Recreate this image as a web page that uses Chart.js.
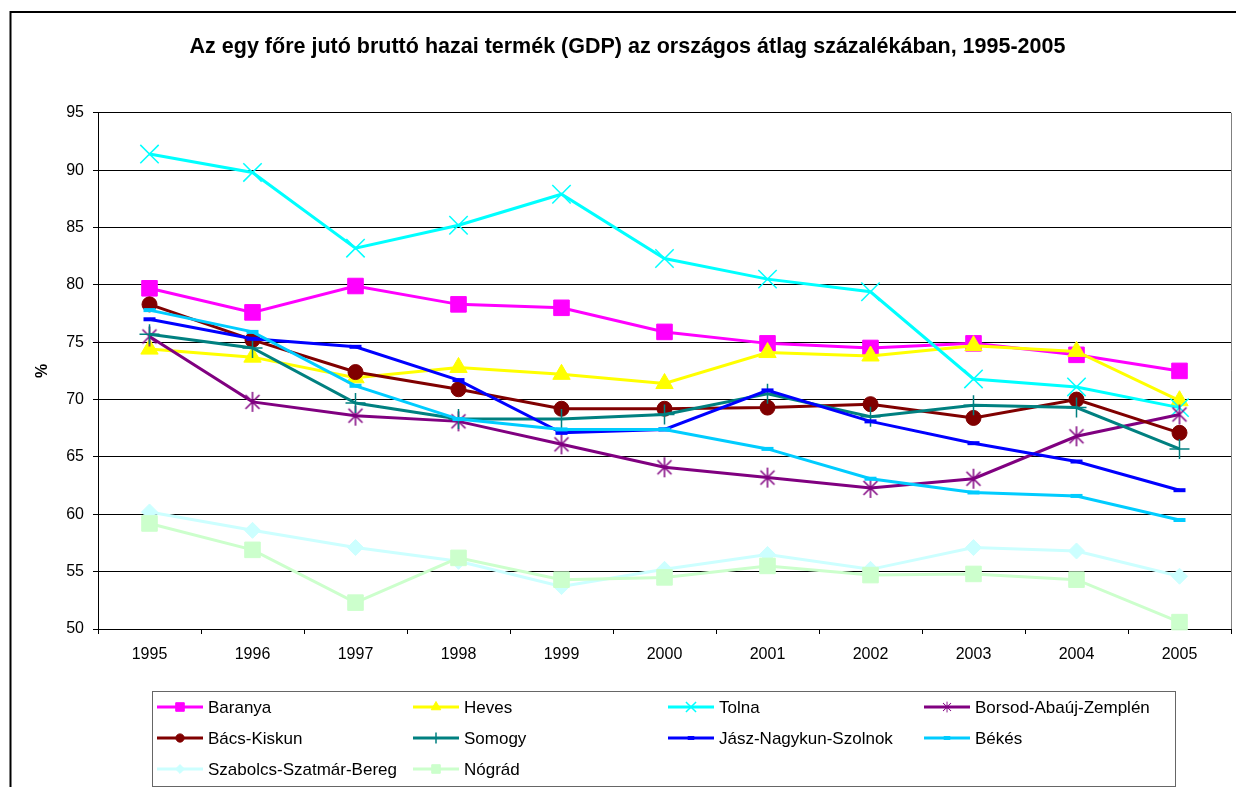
<!DOCTYPE html>
<html>
<head>
<meta charset="utf-8">
<title>GDP megyék</title>
<script src="https://cdn.jsdelivr.net/npm/chart.js@4.4.0/dist/chart.umd.min.js"></script>
<style>
  html, body { margin: 0; padding: 0; background: #fff; }
  #wrap { width: 1236px; height: 787px; }
</style>
</head>
<body>
<div id="wrap"><canvas id="gdpChart" width="1236" height="787"></canvas></div>
<script>
// Data
const years = ['1995', '1996', '1997', '1998', '1999', '2000', '2001', '2002', '2003', '2004', '2005'];
const yTicks = [50, 55, 60, 65, 70, 75, 80, 85, 90, 95];

const baranya  = [79.7, 77.6, 79.9, 78.3, 78.0, 75.9, 74.9, 74.5, 74.9, 73.9, 72.5];
const heves    = [74.4, 73.7, 71.9, 72.8, 72.2, 71.4, 74.1, 73.8, 74.7, 74.2, 69.9];
const tolna    = [91.4, 89.8, 83.2, 85.2, 87.9, 82.3, 80.5, 79.4, 71.8, 71.1, 69.3];
const borsod   = [75.5, 69.8, 68.6, 68.1, 66.1, 64.1, 63.2, 62.3, 63.1, 66.8, 68.7];
const bacs     = [78.3, 75.2, 72.4, 70.9, 69.2, 69.2, 69.3, 69.6, 68.4, 70.0, 67.1];
const somogy   = [75.7, 74.5, 69.7, 68.3, 68.3, 68.7, 70.5, 68.5, 69.5, 69.3, 65.7];
const jasz     = [77.0, 75.3, 74.6, 71.7, 67.1, 67.4, 70.8, 68.1, 66.2, 64.6, 62.1];
const bekes    = [77.8, 75.9, 71.2, 68.3, 67.4, 67.4, 65.7, 63.1, 61.9, 61.6, 59.5];
const szabolcs = [60.2, 58.6, 57.1, 55.9, 53.7, 55.2, 56.5, 55.2, 57.1, 56.8, 54.6];
const nograd   = [59.2, 56.9, 52.3, 56.2, 54.3, 54.5, 55.5, 54.7, 54.8, 54.3, 50.6];

const seriesNames = ['Baranya', 'Heves', 'Tolna', 'Borsod-Abaúj-Zemplén', 'Bács-Kiskun',
    'Somogy', 'Jász-Nagykun-Szolnok', 'Békés', 'Szabolcs-Szatmár-Bereg', 'Nógrád'];
const seriesValues = [baranya, heves, tolna, borsod, bacs, somogy, jasz, bekes, szabolcs, nograd];

const FONT = "'Liberation Sans', Arial, sans-serif";

// Excel style asterisk marker (X plus a vertical bar)
function asteriskMarker(color) {
    const c = document.createElement('canvas');
    c.width = 22;
    c.height = 22;
    const ctx = c.getContext('2d');
    ctx.strokeStyle = color;
    ctx.lineWidth = 1.5;
    ctx.beginPath();
    ctx.moveTo(4, 4); ctx.lineTo(18, 18);
    ctx.moveTo(18, 4); ctx.lineTo(4, 18);
    ctx.moveTo(11, 1); ctx.lineTo(11, 21);
    ctx.stroke();
    return c;
}

// Line and marker styles, same order as the series
const seriesStyles = [
    { color: '#FF00FF', marker: 'rect', radius: 11, pw: 1 },
    { color: '#FFFF00', marker: 'triangle', radius: 10, pw: 1 },
    { color: '#00FFFF', marker: 'crossRot', radius: 13, pw: 1.5 },
    { color: '#800080', marker: asteriskMarker('#800080'), radius: 10, pw: 1 },
    { color: '#800000', marker: 'circle', radius: 7.5, pw: 1 },
    { color: '#008080', marker: 'cross', radius: 10, pw: 1.5 },
    { color: '#0000FF', marker: 'line', radius: 6, pw: 4 },
    { color: '#00CCFF', marker: 'line', radius: 6, pw: 4 },
    { color: '#CCFFFF', marker: 'rectRot', radius: 8, pw: 1 },
    { color: '#CCFFCC', marker: 'rect', radius: 11, pw: 1 }
];

const datasets = seriesNames.map((name, i) => {
    const st = seriesStyles[i];
    return {
        label: name,
        data: seriesValues[i],
        borderColor: st.color,
        backgroundColor: st.color,
        borderWidth: 3,
        pointStyle: st.marker,
        pointRadius: st.radius,
        pointHoverRadius: st.radius,
        pointBorderWidth: st.pw,
        pointBackgroundColor: st.color,
        pointBorderColor: st.color,
        tension: 0,
        clip: false,
        order: 20 - i   // later series on top, as in Excel
    };
});

// Frame of the whole chart and right edge of the plot area
const framePlugin = {
    id: 'frame',
    beforeDraw(chart) {
        const ctx = chart.ctx;
        ctx.save();
        ctx.fillStyle = '#fff';
        ctx.fillRect(0, 0, chart.width, chart.height);
        ctx.strokeStyle = '#000';
        ctx.lineWidth = 2;
        ctx.strokeRect(10.5, 12, 1300, 900);
        ctx.restore();
    },
    afterDraw(chart) {
        const { ctx, chartArea } = chart;
        ctx.save();
        ctx.strokeStyle = '#808080';
        ctx.lineWidth = 1;
        ctx.beginPath();
        ctx.moveTo(Math.round(chartArea.right) + 0.5, chartArea.top);
        ctx.lineTo(Math.round(chartArea.right) + 0.5, chartArea.bottom);
        ctx.stroke();
        ctx.restore();
    }
};

// Legend laid out in 4 columns inside a box, like the original
const boxLegendPlugin = {
    id: 'boxLegend',
    afterDraw(chart) {
        const ctx = chart.ctx;
        const box = { left: 152.5, top: 691.5, right: 1175.5, bottom: 786.5 };
        const colX = [157, 413, 668, 924];
        const rowY = [707, 738, 769];
        ctx.save();
        ctx.strokeStyle = '#666';
        ctx.lineWidth = 1;
        ctx.strokeRect(box.left, box.top, box.right - box.left, box.bottom - box.top);

        chart.data.datasets.forEach((ds, i) => {
            const x = colX[i % 4];
            const y = rowY[Math.floor(i / 4)];
            ctx.strokeStyle = ds.borderColor;
            ctx.fillStyle = ds.borderColor;
            ctx.lineWidth = 3;
            ctx.beginPath();
            ctx.moveTo(x, y);
            ctx.lineTo(x + 46, y);
            ctx.stroke();

            const mx = x + 23;
            if (ds.pointStyle instanceof HTMLCanvasElement) {
                ctx.drawImage(ds.pointStyle, mx - 6, y - 6, 12, 12);
            } else {
                ctx.lineWidth = ds.pointBorderWidth;
                Chart.helpers.drawPoint(ctx, {
                    pointStyle: ds.pointStyle,
                    radius: ds.pointRadius * 0.55,
                    borderWidth: ds.pointBorderWidth,
                    rotation: 0
                }, mx, y);
            }

            ctx.fillStyle = '#000';
            ctx.font = '17px ' + FONT;
            ctx.textAlign = 'left';
            ctx.textBaseline = 'middle';
            ctx.fillText(ds.label, x + 51, y + 1);
        });
        ctx.restore();
    }
};

const ctx = document.getElementById('gdpChart');
new Chart(ctx, {
    type: 'line',
    data: {
        labels: years,
        datasets: datasets
    },
    options: {
        responsive: false,
        devicePixelRatio: 1,
        animation: false,
        layout: { autoPadding: false, padding: { left: 24, right: 5, top: 0, bottom: 0 } },
        plugins: {
            legend: { display: false },
            tooltip: { enabled: false },
            title: {
                display: true,
                text: 'Az egy főre jutó bruttó hazai termék (GDP) az országos átlag százalékában, 1995-2005',
                color: '#000',
                font: { family: FONT, size: 21.5, weight: 'bold' },
                padding: { top: 34, bottom: 53 }
            }
        },
        scales: {
            x: {
                type: 'category',
                offset: true,
                grid: {
                    offset: true,
                    drawOnChartArea: false,
                    drawTicks: true,
                    tickLength: 5,
                    color: '#000'
                },
                border: { color: '#000', width: 1 },
                ticks: {
                    color: '#000',
                    font: { family: FONT, size: 16 },
                    padding: 11,
                    maxRotation: 0,
                    autoSkip: false
                },
                afterFit(scale) {
                    scale.height = 158;
                    scale.paddingLeft = 0;
                    scale.paddingRight = 0;
                }
            },
            y: {
                min: yTicks[0],
                max: yTicks[yTicks.length - 1],
                afterBuildTicks(scale) {
                    scale.ticks = yTicks.map(v => ({ value: v }));
                },
                grid: { color: '#000', tickLength: 5, lineWidth: 1 },
                border: { color: '#000', width: 1 },
                ticks: {
                    color: '#000',
                    font: { family: FONT, size: 16 },
                    padding: 9
                },
                title: {
                    display: true,
                    text: '%',
                    color: '#000',
                    font: { family: FONT, size: 16, weight: 'bold' },
                    padding: { top: 9, bottom: 0 }
                },
                afterFit(scale) { scale.width = 74; }
            }
        }
    },
    plugins: [framePlugin, boxLegendPlugin]
});
</script>
</body>
</html>
